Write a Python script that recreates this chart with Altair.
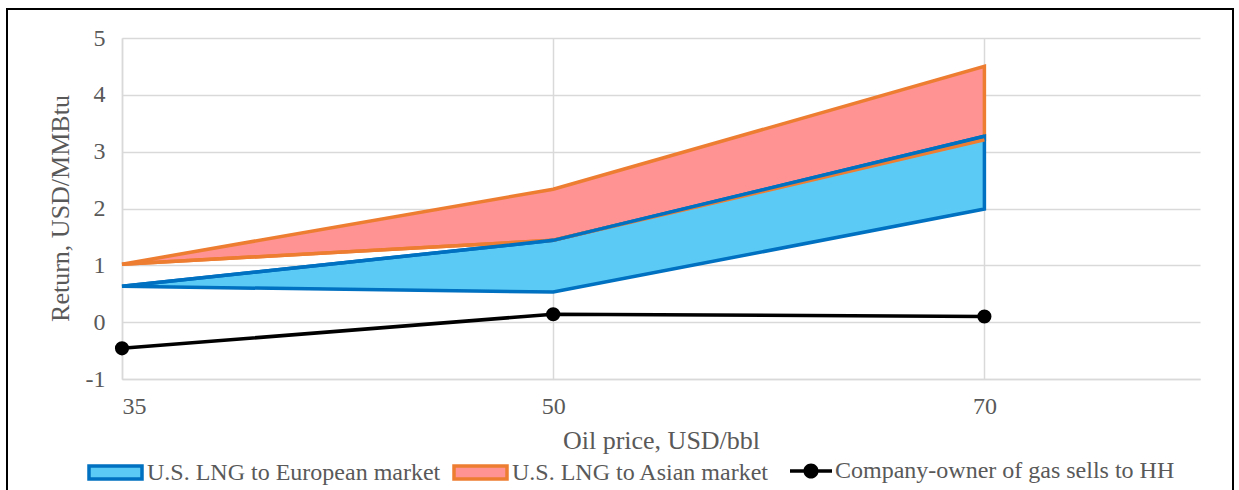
import altair as alt
import pandas as pd

# ---- data ----
prices = [35, 50, 70]
eu_low = [0.63, 0.53, 1.99]
eu_high = [0.63, 1.44, 3.27]
asia_low = [1.02, 1.44, 3.21]
asia_high = [1.02, 2.34, 4.50]
hh = [-0.46, 0.14, 0.10]
y_ticks = [-1, 0, 1, 2, 3, 4, 5]

EU = "U.S. LNG to European market"
ASIA = "U.S. LNG to Asian market"
HH = "Company-owner of gas sells to HH"

idx = list(range(len(prices)))
areas = pd.DataFrame({
    "pos": idx * 2,
    "price": prices * 2,
    "low": eu_low + asia_low,
    "high": eu_high + asia_high,
    "series": [EU] * len(prices) + [ASIA] * len(prices),
})
hh_df = pd.DataFrame({"pos": idx, "price": prices, "value": hh, "series": [HH] * len(prices)})
frame_df = pd.DataFrame({"a": [0]})

FONT = "Liberation Serif"
GREY = "#595959"
GRID = "#D9D9D9"
EU_FILL, EU_LINE = "#5BCBF5", "#0070C0"
AS_FILL, AS_LINE = "#FF9393", "#ED7D31"

label_expr = " : ".join(f"datum.value == {i} ? '{p}'" for i, p in enumerate(prices)) + " : ''"

x_axis = alt.Axis(values=idx, labelExpr=label_expr, title="Oil price, USD/bbl",
                  grid=True, gridColor=GRID, gridWidth=1.5, ticks=False,
                  domainColor=GRID, domainWidth=1.5,
                  labelFont=FONT, labelFontSize=24, labelColor=GREY, labelPadding=15,
                  titleFont=FONT, titleFontSize=26, titleColor=GREY, titleFontWeight="normal",
                  titleY=61, titleBaseline="middle")
y_axis = alt.Axis(values=y_ticks, title="Return, USD/MMBtu",
                  labelExpr="datum.value < 0 ? '-' + (-datum.value) : '' + datum.value",
                  grid=True, gridColor=GRID, gridWidth=1.5, ticks=False,
                  domainColor=GRID, domainWidth=1.5,
                  labelFont=FONT, labelFontSize=24, labelColor=GREY, labelPadding=17,
                  titleFont=FONT, titleFontSize=26, titleColor=GREY, titleFontWeight="normal",
                  titleX=-62, titleY=170, titleAngle=270, titleAlign="center", titleBaseline="middle")

x_scale = alt.Scale(domain=[0, 2.5], nice=False, zero=False)
y_scale = alt.Scale(domain=[-1, 5], nice=False, zero=False)

def X():
    return alt.X("pos:Q", scale=x_scale, axis=x_axis)

def Y(field):
    return alt.Y(f"{field}:Q", scale=y_scale, axis=y_axis)

rect_path = "M-1,-0.245H1V0.245H-1Z"
# filled horizontal bar plus filled dot (both clockwise so nonzero fill keeps overlap solid)
line_dot_path = ("M-1,-0.08H1V0.08H-1Z"
                 "M0.36,0A0.36,0.36,0,1,1,-0.36,0A0.36,0.36,0,1,1,0.36,0Z")

area_legend = alt.Legend(title=None, orient="none", legendX=-35, legendY=406, direction="horizontal",
                         symbolType=rect_path, symbolSize=2809, symbolStrokeWidth=3.5,
                         labelFont=FONT, labelFontSize=24, labelColor=GREY, labelOffset=3,
                         labelLimit=600, columnPadding=6, padding=0)
fill_enc = alt.Fill("series:N", scale=alt.Scale(domain=[EU, ASIA], range=[EU_FILL, AS_FILL]), legend=area_legend)
stroke_enc = alt.Stroke("series:N", scale=alt.Scale(domain=[EU, ASIA], range=[EU_LINE, AS_LINE]), legend=area_legend)

base_area = alt.Chart(areas).mark_area(strokeWidth=3.5, fillOpacity=1, strokeJoin="miter").encode(
    x=X(), y=Y("low"), y2="high:Q", fill=fill_enc, stroke=stroke_enc)

asia_area = base_area.transform_filter(alt.datum.series == ASIA)
eu_area = base_area.transform_filter(alt.datum.series == EU)

asia_low_line = alt.Chart(areas).transform_filter(alt.datum.series == ASIA).mark_line(
    color=AS_LINE, strokeWidth=3.5).encode(x=X(), y=Y("low"))
eu_high_line = alt.Chart(areas).transform_filter(alt.datum.series == EU).mark_line(
    color=EU_LINE, strokeWidth=3.5).encode(x=X(), y=Y("high"))

hh_line = alt.Chart(hh_df).mark_line(color="black", strokeWidth=3.5).encode(x=X(), y=Y("value"))
hh_pts = alt.Chart(hh_df).mark_circle(color="black", size=200, opacity=1).encode(
    x=X(), y=Y("value"),
    opacity=alt.Opacity("series:N", scale=alt.Scale(domain=[HH], range=[1]),
                        legend=alt.Legend(title=None, orient="none", legendX=668, legendY=412,
                                          symbolType=line_dot_path, symbolSize=1764,
                                          symbolStrokeWidth=0, symbolFillColor="black",
                                          labelFont=FONT, labelFontSize=24, labelColor=GREY,
                                          labelOffset=3, labelLimit=600, padding=0)))

frame = alt.Chart(frame_df).mark_rect(fill=None, stroke="black", strokeWidth=2).encode(
    x=alt.value(-115), x2=alt.value(1111), y=alt.value(-29), y2=alt.value(470))

chart = alt.layer(asia_area, eu_area, asia_low_line, eu_high_line, hh_line, hh_pts, frame).resolve_scale(
    fill="shared", stroke="shared").properties(
    width=1078, height=341,
    autosize=alt.AutoSizeParams(type="none"),
    padding={"left": 122, "top": 38, "right": 39, "bottom": 111},
).configure_view(stroke=None)

chart.save("out.html", embed_options={"renderer": "svg", "actions": False})
